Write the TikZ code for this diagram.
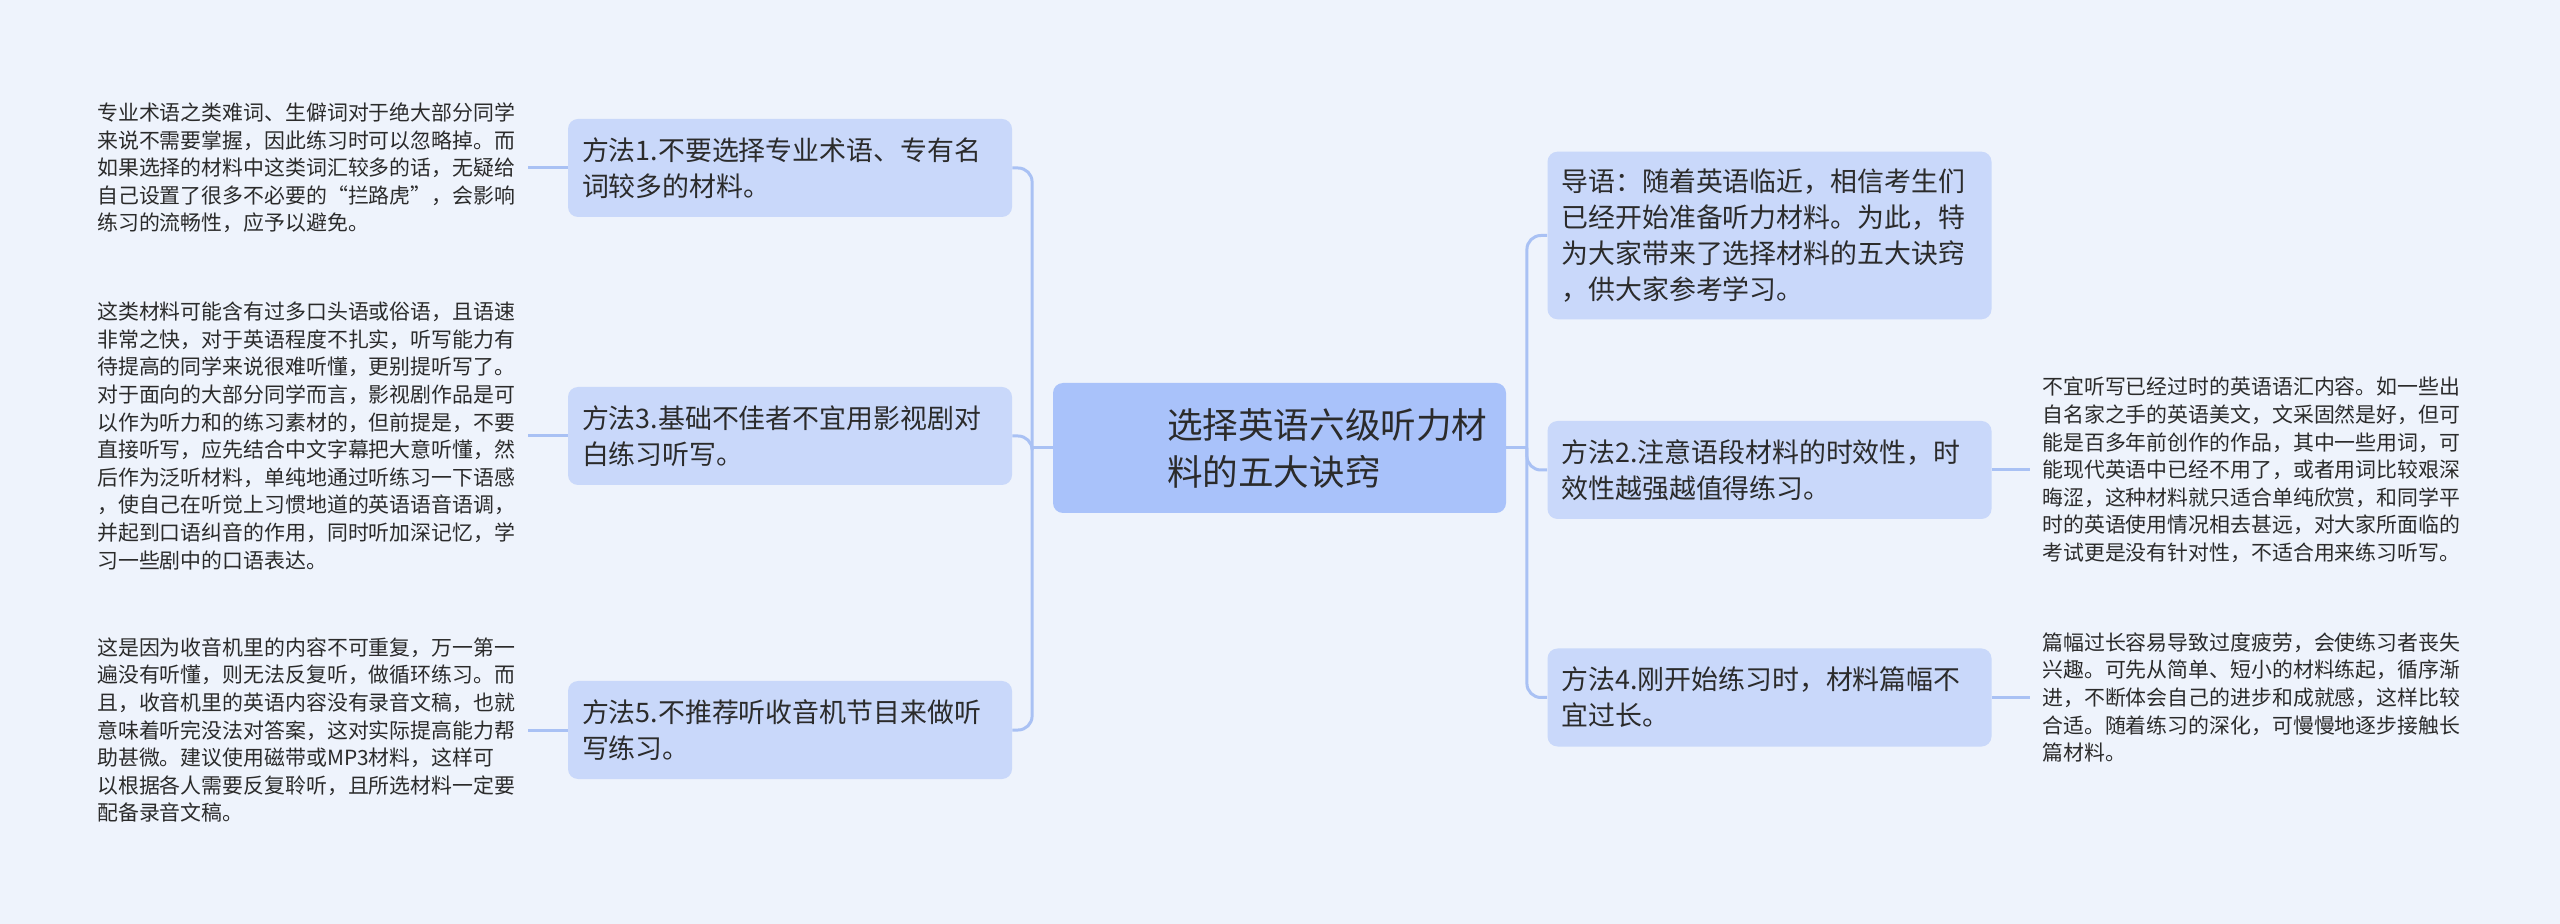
\documentclass[tikz,border=0pt]{standalone}
\usepackage{fontspec}
\newfontfamily\cjk{Noto Sans CJK SC}
\usetikzlibrary{positioning}
\definecolor{bgblue}{HTML}{EEF3FC}
\definecolor{rootblue}{HTML}{A9C2FA}
\definecolor{topicblue}{HTML}{C9D8FA}
\definecolor{lineblue}{HTML}{A9C1F4}
\definecolor{inkgray}{HTML}{2B2B2B}

\begin{document}
\begin{tikzpicture}[x=0.5pt,y=-0.5pt,
 root/.style={fill=rootblue,rounded corners=5pt,text=inkgray,align=left,text width=208.5pt,minimum height=65pt,inner xsep=9pt,font=\cjk\fontsize{17.8pt}{23.5pt}\selectfont},
 topic/.style={fill=topicblue,rounded corners=5pt,text=inkgray,align=left,text width=208pt,minimum height=49pt,inner xsep=7pt,inner ysep=8.5pt,font=\cjk\fontsize{13.45pt}{18pt}\selectfont},
 note/.style={text=inkgray,align=left,inner xsep=6pt,font=\cjk\fontsize{10.45pt}{13.8pt}\selectfont},
 link/.style={draw=lineblue,line width=1.5pt,rounded corners=7pt}]
 \fill[bgblue] (0,0) rectangle (2560,924);
 \useasboundingbox (0,0) rectangle (2560,924);

 \node[root] (root) at (1279.5,448) {\hspace*{48pt}选择英语六级听力材\\\hspace*{48pt}料的五大诀窍};

 % left branch
 \node[topic] (m1) at (790,168) {方法1.不要选择专业术语、专有名\\词较多的材料。};
 \node[topic] (m3) at (790,436) {方法3.基础不佳者不宜用影视剧对\\白练习听写。};
 \node[topic] (m5) at (790,730) {方法5.不推荐听收音机节目来做听\\写练习。};

 \node[note,left=20pt of m1] (d1) {专业术语之类难词、生僻词对于绝大部分同学\\%
来说不需要掌握，因此练习时可以忽略掉。而\\%
如果选择的材料中这类词汇较多的话，无疑给\\%
自己设置了很多不必要的“拦路虎”，会影响\\%
练习的流畅性，应予以避免。};
 \node[note,left=20pt of m3] (d3) {这类材料可能含有过多口头语或俗语，且语速\\%
非常之快，对于英语程度不扎实，听写能力有\\%
待提高的同学来说很难听懂，更别提听写了。\\%
对于面向的大部分同学而言，影视剧作品是可\\%
以作为听力和的练习素材的，但前提是，不要\\%
直接听写，应先结合中文字幕把大意听懂，然\\%
后作为泛听材料，单纯地通过听练习一下语感\\%
，使自己在听觉上习惯地道的英语语音语调，\\%
并起到口语纠音的作用，同时听加深记忆，学\\%
习一些剧中的口语表达。};
 \node[note,left=20pt of m5] (d5) {这是因为收音机里的内容不可重复，万一第一\\%
遍没有听懂，则无法反复听，做循环练习。而\\%
且，收音机里的英语内容没有录音文稿，也就\\%
意味着听完没法对答案，这对实际提高能力帮\\%
助甚微。建议使用磁带或MP3材料，这样可\\%
以根据各人需要反复聆听，且所选材料一定要\\%
配备录音文稿。};

 % right branch
 \node[topic] (intro) at (1769.5,235.5) {导语：随着英语临近，相信考生们\\%
已经开始准备听力材料。为此，特\\%
为大家带来了选择材料的五大诀窍\\%
，供大家参考学习。};
 \node[topic] (m2) at (1769.5,470) {方法2.注意语段材料的时效性，时\\效性越强越值得练习。};
 \node[topic] (m4) at (1769.5,697.5) {方法4.刚开始练习时，材料篇幅不\\宜过长。};

 \node[note,right=19pt of m2] (d2) {不宜听写已经过时的英语语汇内容。如一些出\\%
自名家之手的英语美文，文采固然是好，但可\\%
能是百多年前创作的作品，其中一些用词，可\\%
能现代英语中已经不用了，或者用词比较艰深\\%
晦涩，这种材料就只适合单纯欣赏，和同学平\\%
时的英语使用情况相去甚远，对大家所面临的\\%
考试更是没有针对性，不适合用来练习听写。};
 \node[note,right=19pt of m4] (d4) {篇幅过长容易导致过度疲劳，会使练习者丧失\\%
兴趣。可先从简单、短小的材料练起，循序渐\\%
进，不断体会自己的进步和成就感，这样比较\\%
合适。随着练习的深化，可慢慢地逐步接触长\\%
篇材料。};

 % connectors
 \draw[link] (root.west) -- ++(-20.5,0) coordinate (lj);
 \draw[link] (root.east) -- ++(20.5,0) coordinate (rj);
 \foreach \m in {m1,m3,m5}
  \draw[link] (lj) |- (\m.east);
 \foreach \m in {intro,m2,m4}
  \draw[link] (rj) |- (\m.west);
 \draw[link] (m1.west) -- (d1.east);
 \draw[link] (m3.west) -- (d3.east);
 \draw[link] (m5.west) -- (d5.east);
 \draw[link] (m2.east) -- (d2.west);
 \draw[link] (m4.east) -- (d4.west);
\end{tikzpicture}
\end{document}
